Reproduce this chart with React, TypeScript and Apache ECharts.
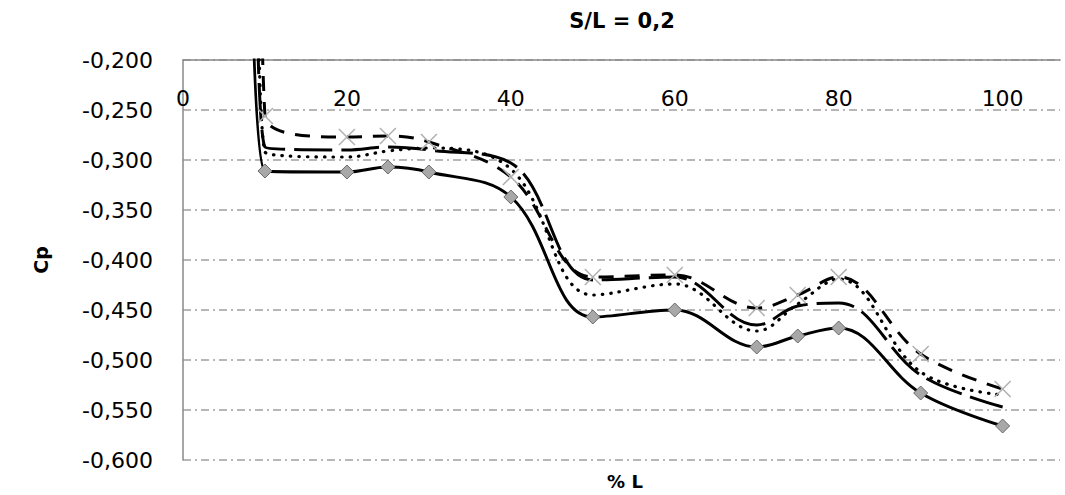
import React, { useEffect, useRef } from "react";
import * as echarts from "echarts";

const xPositions = [10, 20, 25, 30, 40, 50, 60, 70, 75, 80, 90, 100];
const solidDiamond = [-0.311, -0.312, -0.307, -0.312, -0.337, -0.457, -0.450, -0.487, -0.476, -0.468, -0.533, -0.566];
const dashedCross = [-0.256, -0.277, -0.276, -0.282, -0.317, -0.417, -0.415, -0.448, -0.435, -0.417, -0.494, -0.529];
const dotted = [-0.292, -0.297, -0.291, -0.288, -0.309, -0.435, -0.424, -0.471, -0.444, -0.419, -0.512, -0.535];
const longDash = [-0.287, -0.290, -0.287, -0.290, -0.303, -0.420, -0.417, -0.465, -0.446, -0.443, -0.515, -0.547];
// leading points (off the top of the plot)
const leadX = { solidDiamond: 8.0, dashedCross: 9.2, dotted: 8.8, longDash: 8.6 };
const leadY = 0.2;
const yTicks = { min: -0.6, max: -0.2, step: 0.05 };
const xTicks = { min: 0, max: 107, step: 20 };

const FONT = "DejaVu Sans";

function toData(lx: number, vals: number[]) {
  return [
    { value: [lx, leadY], symbol: "none" },
    ...xPositions.map((x, i) => [x, vals[i]]),
  ];
}

export default function App() {
  const ref = useRef<HTMLDivElement>(null);
  useEffect(() => {
    document.body.style.margin = "0";
    const chart = echarts.init(ref.current!, undefined, { renderer: "svg" });
    const lineBase = {
      type: "line" as const,
      smooth: 0.38,
      clip: true,
      z: 3,
    };
    chart.setOption({
      animation: false,
      backgroundColor: "#ffffff",
      title: [
        {
          text: "S/L = 0,2",
          left: 622,
          top: 10,
          padding: 0,
          textAlign: "center",
          textStyle: { fontFamily: FONT, fontSize: 21, fontWeight: "bold", color: "#000" },
        },
        {
          text: "% L",
          left: 625,
          top: 472,
          padding: 0,
          textAlign: "center",
          textStyle: { fontFamily: FONT, fontSize: 18, fontWeight: "bold", color: "#000" },
        },
      ],
      grid: { left: 183, top: 60, right: 5, bottom: 35, containLabel: false },
      xAxis: {
        type: "value",
        position: "top",
        min: xTicks.min,
        max: xTicks.max,
        interval: xTicks.step,
        axisLine: { show: true, lineStyle: { color: "#888888", width: 1.5 } },
        axisTick: { show: false },
        splitLine: { show: false },
        axisLabel: {
          inside: true,
          margin: 27,
          showMaxLabel: false,
          fontFamily: FONT,
          fontSize: 22,
          color: "#000",
        },
      },
      yAxis: {
        type: "value",
        min: yTicks.min,
        max: yTicks.max,
        interval: yTicks.step,
        name: "Cp",
        nameLocation: "middle",
        nameRotate: 90,
        nameGap: 133,
        nameTextStyle: { fontFamily: FONT, fontSize: 19, fontWeight: "bold", color: "#000" },
        axisLine: { show: true, lineStyle: { color: "#888888", width: 1.5 } },
        axisTick: { show: false },
        axisLabel: {
          margin: 30,
          fontFamily: FONT,
          fontSize: 22,
          color: "#000",
          formatter: (v: number) => v.toFixed(3).replace(".", ","),
        },
        splitLine: {
          show: true,
          lineStyle: { color: "#a0a0a0", width: 1.5, type: [8, 4, 2, 4] },
        },
      },
      series: [
        {
          ...lineBase,
          name: "longDash",
          data: toData(leadX.longDash, longDash),
          symbol: "none",
          lineStyle: { color: "#000", width: 3, type: [38, 9] },
        },
        {
          ...lineBase,
          name: "dotted",
          data: toData(leadX.dotted, dotted),
          symbol: "none",
          lineStyle: { color: "#000", width: 3.2, type: [0.5, 8], cap: "round" },
        },
        {
          ...lineBase,
          name: "dashedCross",
          data: toData(leadX.dashedCross, dashedCross),
          symbol: "path://M0,0L10,10M10,0L0,10",
          symbolSize: 16,
          itemStyle: { color: "none", borderColor: "#b0b0b0", borderWidth: 1.5 },
          lineStyle: { color: "#000", width: 3, type: [15, 11] },
        },
        {
          ...lineBase,
          name: "solidDiamond",
          data: toData(leadX.solidDiamond, solidDiamond),
          symbol: "diamond",
          symbolSize: 14,
          itemStyle: { color: "#a8a8a8", borderColor: "#6a6a6a", borderWidth: 1 },
          lineStyle: { color: "#000", width: 3 },
          z: 4,
        },
      ],
    });
    return () => chart.dispose();
  }, []);
  return (
    <div
      ref={ref}
      style={{ position: "absolute", left: 0, top: 0, width: 1065, height: 495 }}
    />
  );
}
